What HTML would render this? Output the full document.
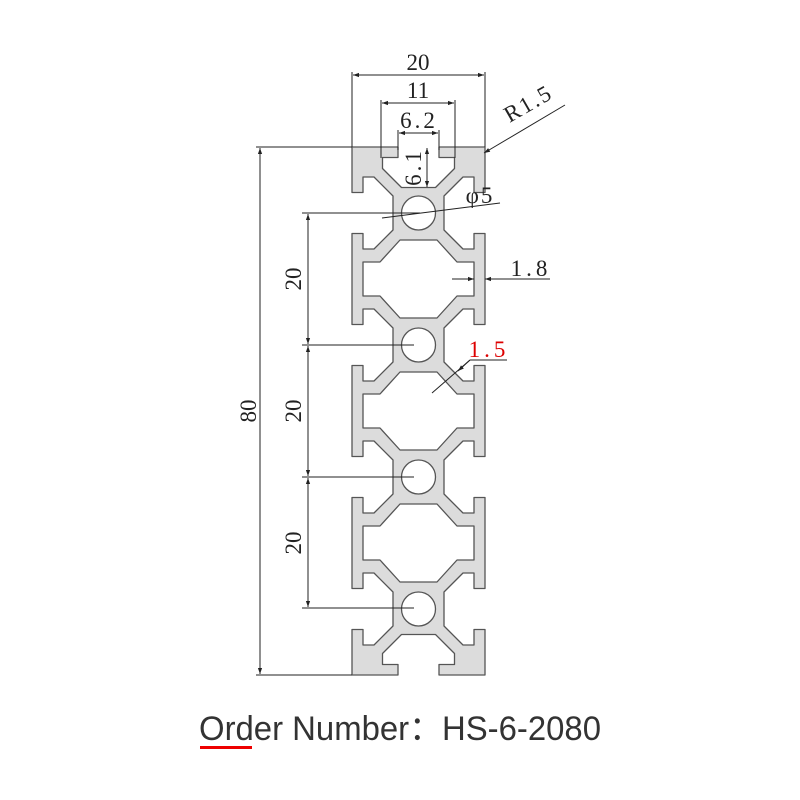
<!DOCTYPE html>
<html><head><meta charset="utf-8"><style>html,body{margin:0;padding:0;background:#fff}svg{display:block}</style></head>
<body>
<svg width="800" height="800" viewBox="0 0 800 800" xmlns="http://www.w3.org/2000/svg">
<defs>
<marker id="a" viewBox="0 0 10 10" refX="10" refY="5" markerWidth="9" markerHeight="6" orient="auto-start-reverse" markerUnits="userSpaceOnUse"><path d="M0,1.5 L10,5 L0,8.5z" fill="#222"/></marker>
</defs>
<rect width="800" height="800" fill="#fff"/>
<g fill="#dcdcdc" stroke="#555" stroke-width="1.3" stroke-linejoin="round">
<path fill-rule="evenodd" d="M352,147 L398,147 L398,157.5 L382.5,157.5 L382.5,168.5 L401.5,187.5 L435.5,187.5 L454.5,168.5 L454.5,157.5 L439,157.5 L439,147 L485,147
L485,192.5 L474,192.5 L474,177 L463,177 L444,196 L444,230 L463,249 L474,249 L474,233.5 L485,233.5
L485,324.5 L474,324.5 L474,309 L463,309 L444,328 L444,362 L463,381 L474,381 L474,365.5 L485,365.5
L485,456.5 L474,456.5 L474,441 L463,441 L444,460 L444,494 L463,513 L474,513 L474,497.5 L485,497.5
L485,588.5 L474,588.5 L474,573 L463,573 L444,592 L444,626 L463,645 L474,645 L474,629.5 L485,629.5
L485,675 L439,675 L439,664.5 L454.5,664.5 L454.5,653.5 L435.5,634.5 L401.5,634.5 L382.5,653.5 L382.5,664.5 L398,664.5 L398,675 L352,675
L352,629.5 L363,629.5 L363,645 L374,645 L393,626 L393,592 L374,573 L363,573 L363,588.5 L352,588.5
L352,497.5 L363,497.5 L363,513 L374,513 L393,494 L393,460 L374,441 L363,441 L363,456.5 L352,456.5
L352,365.5 L363,365.5 L363,381 L374,381 L393,362 L393,328 L374,309 L363,309 L363,324.5 L352,324.5
L352,233.5 L363,233.5 L363,249 L374,249 L393,230 L393,196 L374,177 L363,177 L363,192.5 L352,192.5 Z
M400,240 L437,240 L457,262 L474,262 L474,296 L457,296 L437,318 L400,318 L380,296 L363,296 L363,262 L380,262 Z
M400,372 L437,372 L457,394 L474,394 L474,428 L457,428 L437,450 L400,450 L380,428 L363,428 L363,394 L380,394 Z
M400,504 L437,504 L457,526 L474,526 L474,560 L457,560 L437,582 L400,582 L380,560 L363,560 L363,526 L380,526 Z"/>
</g>
<g fill="#fff" stroke="#555" stroke-width="1.3">
<circle cx="418.5" cy="213" r="17"/><circle cx="418.5" cy="345" r="17"/><circle cx="418.5" cy="477" r="17"/><circle cx="418.5" cy="609" r="17"/>
</g>
<g stroke="#222" stroke-width="1" fill="none">
<line x1="352" y1="72" x2="352" y2="147"/><line x1="485" y1="72" x2="485" y2="147"/>
<line x1="353" y1="75" x2="484" y2="75" marker-start="url(#a)" marker-end="url(#a)"/>
<line x1="381" y1="100" x2="381" y2="158"/><line x1="455" y1="100" x2="455" y2="158"/>
<line x1="382" y1="103" x2="454" y2="103" marker-start="url(#a)" marker-end="url(#a)"/>
<line x1="398" y1="130" x2="398" y2="150"/><line x1="439" y1="130" x2="439" y2="150"/>
<line x1="399" y1="133" x2="438" y2="133" marker-start="url(#a)" marker-end="url(#a)"/>
<line x1="427" y1="148" x2="427" y2="187" marker-start="url(#a)" marker-end="url(#a)"/>
<line x1="565" y1="105" x2="484" y2="153" marker-end="url(#a)"/>
<line x1="382" y1="218" x2="500" y2="203"/>
<line x1="256" y1="147" x2="352" y2="147"/><line x1="256" y1="675" x2="352" y2="675"/>
<line x1="260" y1="148" x2="260" y2="674" marker-start="url(#a)" marker-end="url(#a)"/>
<line x1="302" y1="213" x2="420" y2="213"/><line x1="302" y1="345" x2="414" y2="345"/>
<line x1="302" y1="477" x2="414" y2="477"/><line x1="302" y1="608" x2="414" y2="608"/>
<line x1="308" y1="214" x2="308" y2="344" marker-start="url(#a)" marker-end="url(#a)"/>
<line x1="308" y1="346" x2="308" y2="476" marker-start="url(#a)" marker-end="url(#a)"/>
<line x1="308" y1="478" x2="308" y2="607" marker-start="url(#a)" marker-end="url(#a)"/>
<line x1="452" y1="279" x2="474" y2="279" marker-end="url(#a)"/>
<line x1="550" y1="279" x2="485" y2="279" marker-end="url(#a)"/>
<line x1="507" y1="360" x2="470" y2="360"/>
<line x1="470" y1="360" x2="432" y2="393"/>
<line x1="470" y1="360" x2="458" y2="371" marker-end="url(#a)"/>
</g>
<g font-family="Liberation Serif, serif" font-size="23" fill="#222" text-anchor="middle">
<text x="418" y="70">20</text>
<text x="418" y="98">11</text>
<text x="419" y="128" letter-spacing="3">6.2</text>
<text transform="translate(421,167) rotate(-90)" letter-spacing="3">6.1</text>
<text transform="translate(532,110) rotate(-30)" letter-spacing="2">R1.5</text>
<text x="480" y="203" letter-spacing="2">φ5</text>
<text x="531" y="276" letter-spacing="4">1.8</text>
<text x="489" y="357" fill="#d00" letter-spacing="4">1.5</text>
<text transform="translate(256,411) rotate(-90)">80</text>
<text transform="translate(301,279) rotate(-90)">20</text>
<text transform="translate(301,411) rotate(-90)">20</text>
<text transform="translate(301,543) rotate(-90)">20</text>
</g>
<text x="199" y="740" font-family="Liberation Sans, 'Noto Sans CJK SC', sans-serif" font-size="34" fill="#333" textLength="402" lengthAdjust="spacingAndGlyphs">Order Number：HS-6-2080</text>
<rect x="200" y="746" width="52" height="3" fill="#e00"/>
</svg>
</body></html>
